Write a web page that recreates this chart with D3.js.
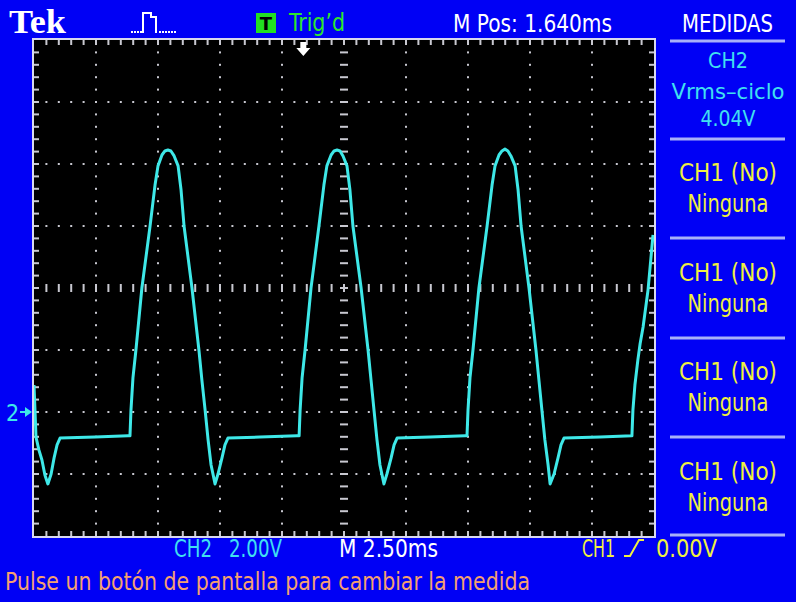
<!DOCTYPE html>
<html><head><meta charset="utf-8">
<script src="https://cdn.jsdelivr.net/npm/d3@7/dist/d3.min.js"></script>
<style>html,body{margin:0;padding:0;background:#0000f5;overflow:hidden}svg{display:block}</style>
</head><body><svg id="c" width="796" height="602"></svg>
<script>
// ---- data (CH2 trace) ----
const timeMs = [0,0.04,0.08,0.20,0.32,0.44,0.56,0.69,0.81,0.93,1.05,2.46,3.79,
 3.87,3.91,3.99,4.11,4.35,4.68,4.88,5.00,5.16,5.28,5.40,5.52,5.65,5.81,5.93,6.05,6.37,6.65,6.77,6.90,7.02,7.14,7.30,7.42,7.58,7.70,7.82,9.11,10.60,
 10.69,10.73,10.81,10.93,11.17,11.49,11.69,11.81,11.98,12.10,12.22,12.34,12.46,12.62,12.74,12.86,13.19,13.47,13.59,13.71,13.83,13.95,14.11,14.23,14.40,14.52,14.64,15.97,17.38,
 17.46,17.50,17.58,17.70,17.94,18.27,18.47,18.59,18.75,18.87,18.99,19.11,19.23,19.40,19.52,19.64,19.96,20.24,20.36,20.48,20.60,20.73,20.81,20.97,21.13,21.25,21.37,22.82,24.11,
 24.15,24.23,24.35,24.44,24.56,24.76,24.96];
const ch2Volts = [0.87,0.06,-0.81,-1.23,-1.55,-2.03,-2.32,-2.00,-1.48,-1.06,-0.84,-0.81,-0.77,
 -0.77,0.06,1.10,2.00,4.00,6.00,7.32,7.94,8.29,8.42,8.45,8.42,8.26,7.94,7.16,6.00,4.00,2.00,1.03,0.06,-0.90,-1.71,-2.32,-2.00,-1.48,-1.06,-0.84,-0.81,-0.77,
 -0.77,0.06,1.10,2.00,4.00,6.00,7.32,7.94,8.29,8.42,8.45,8.42,8.26,7.94,7.16,6.00,4.00,2.00,1.03,0.06,-0.90,-1.71,-2.32,-2.00,-1.48,-1.06,-0.84,-0.81,-0.77,
 -0.77,0.06,1.10,2.00,4.00,6.00,7.32,7.94,8.29,8.42,8.48,8.42,8.26,7.94,7.16,6.00,4.00,2.00,1.03,0.06,-0.90,-1.71,-2.32,-2.00,-1.48,-1.06,-0.84,-0.81,-0.77,
 0.06,0.87,1.68,2.20,2.74,3.94,5.71];
const timeDomain = [0, 25];      // 10 div x 2.50 ms
const voltDomain = [-4, 12];     // 8 div x 2.00 V
const timePerDiv = 2.5, voltPerDiv = 2.0;
const topTexts = {brand:"Tek", trig:"Trig’d", pos:"M Pos: 1.640ms", menu:"MEDIDAS"};
const measure1 = ["CH2","Vrms–ciclo","4.04V"];
const measureRest = [["CH1 (No)","Ninguna"],["CH1 (No)","Ninguna"],["CH1 (No)","Ninguna"],["CH1 (No)","Ninguna"]];
const bottomTexts = {ch2:"CH2", ch2v:"2.00V", time:"M 2.50ms", ch1:"CH1", ch1v:"0.00V",
  msg:"Pulse un botón de pantalla para cambiar la medida"};

const svg = d3.select("#c");
const FONT = "'Liberation Sans Narrow','DejaVu Sans Condensed','Roboto Condensed',Arial,sans-serif";
const X0=34, X1=654, Y0=40, Y1=536;
const x = d3.scaleLinear().domain(timeDomain).range([X0,X1]);
const y = d3.scaleLinear().domain(voltDomain).range([Y1,Y0]);

svg.append("rect").attr("width",796).attr("height",602).attr("fill","#0000f5");
svg.append("rect").attr("x",X0).attr("y",Y0).attr("width",X1-X0).attr("height",Y1-Y0).attr("fill","#000");

const gridCol = "#c8c8d0";
const majX = d3.range(timeDomain[0], timeDomain[1]+1e-9, timePerDiv);
const majY = d3.range(voltDomain[0], voltDomain[1]+1e-9, voltPerDiv);
const minX = d3.range(timeDomain[0], timeDomain[1]+1e-9, timePerDiv/5);
const minY = d3.range(voltDomain[0], voltDomain[1]+1e-9, voltPerDiv/5);
const cT = 12.5, cV = 4;
const g = svg.append("g");
majX.slice(1,-1).filter(t=>Math.abs(t-cT)>1e-6).forEach(t=>{
  minY.slice(1,-1).forEach(v=>g.append("rect").attr("x",x(t)-1).attr("y",y(v)-1).attr("width",2).attr("height",2).attr("fill",gridCol));
});
majY.slice(1,-1).filter(v=>Math.abs(v-cV)>1e-6).forEach(v=>{
  minX.slice(1,-1).forEach(t=>g.append("rect").attr("x",x(t)-1).attr("y",y(v)-1).attr("width",2).attr("height",2).attr("fill",gridCol));
});
minX.slice(1,-1).forEach(t=>g.append("rect").attr("x",x(t)-1).attr("y",y(cV)-4).attr("width",2).attr("height",8).attr("fill",gridCol));
minY.slice(1,-1).forEach(v=>g.append("rect").attr("x",x(cT)-4).attr("y",y(v)-1).attr("width",8).attr("height",2).attr("fill",gridCol));
minX.slice(1,-1).forEach(t=>{
  g.append("rect").attr("x",x(t)-1).attr("y",Y0).attr("width",2).attr("height",5).attr("fill",gridCol);
  g.append("rect").attr("x",x(t)-1).attr("y",Y1-5).attr("width",2).attr("height",5).attr("fill",gridCol);
});
minY.slice(1,-1).forEach(v=>{
  g.append("rect").attr("x",X0).attr("y",y(v)-1).attr("width",5).attr("height",2).attr("fill",gridCol);
  g.append("rect").attr("x",X1-5).attr("y",y(v)-1).attr("width",5).attr("height",2).attr("fill",gridCol);
});
svg.append("rect").attr("x",X0-1).attr("y",Y0-1).attr("width",X1-X0+2).attr("height",Y1-Y0+2)
  .attr("fill","none").attr("stroke","#d8d8ee").attr("stroke-width",2);

svg.append("clipPath").attr("id","clip").append("rect").attr("x",X0).attr("y",Y0).attr("width",X1-X0).attr("height",Y1-Y0);
const pts = timeMs.map((t,i)=>[t,ch2Volts[i]]);
svg.append("path").datum(pts).attr("clip-path","url(#clip)")
  .attr("d", d3.line().x(d=>x(d[0])).y(d=>y(d[1])))
  .attr("fill","none").attr("stroke","#3ee8e8").attr("stroke-width",3).attr("stroke-linejoin","round");

const trigX = x(cT - 1.64);
svg.append("path").attr("d",`M${trigX-3},42 h6 v6 h4 l-7,8 l-7,-8 h4 z`).attr("fill","#fff");
svg.append("text").attr("x",6).attr("y",y(0)+9).text("2").attr("fill","#3ee8e8")
  .attr("font-family",FONT).attr("font-size",23);
svg.append("path").attr("d",`M20,${y(0)-1} h5 v-4 l7,5 l-7,5 v-4 h-5 z`).attr("fill","#3ee8e8");

function txt(s,xx,yy,col,size,len,anchor){
  const t = svg.append("text").attr("x",xx).attr("y",yy).text(s).attr("fill",col)
    .attr("font-family",FONT).attr("font-size",size).attr("text-anchor",anchor||"start");
  if(len){t.attr("textLength",len).attr("lengthAdjust","spacingAndGlyphs");}
  return t;
}
svg.append("text").attr("x",9).attr("y",33).text(topTexts.brand).attr("fill","#fff")
  .attr("font-family","'Liberation Serif','DejaVu Serif',serif").attr("font-weight","bold").attr("font-size",33)
  .attr("textLength",57).attr("lengthAdjust","spacingAndGlyphs");
svg.append("path").attr("d","M143,33 V13 H151 V17 H156 V33").attr("fill","none").attr("stroke","#fff").attr("stroke-width",2);
[131,134,137,140,159,162,165,168,171,174].forEach(px=>svg.append("rect").attr("x",px).attr("y",31).attr("width",2).attr("height",2).attr("fill","#fff"));
svg.append("rect").attr("x",256).attr("y",13).attr("width",20).attr("height",20).attr("fill","#22e022");
txt("T",266,30,"#000",18,null,"middle").attr("font-weight","bold").attr("font-family","'DejaVu Sans',sans-serif");
txt(topTexts.trig,289,31,"#2ee62e",25,56);
txt(topTexts.pos,453,32,"#fff",25,159);
txt(topTexts.menu,682,32,"#fff",25,91);

const sepY = [41,139,238,338,437,535];
sepY.forEach(sy=>svg.append("rect").attr("x",670).attr("y",sy-1.5).attr("width",115).attr("height",3).attr("fill","#a8b0f8"));
const cx = 728;
txt(measure1[0],cx,68,"#40e0f0",21,40,"middle");
txt(measure1[1],cx,99,"#40e0f0",21,113,"middle");
txt(measure1[2],cx,126,"#40e0f0",21,55,"middle");
measureRest.forEach((m,i)=>{
  const b = 181 + i*99.7;
  txt(m[0],cx,b,"#f0f040",24,98,"middle");
  txt(m[1],cx,b+31,"#f0f040",24,81,"middle");
});

txt(bottomTexts.ch2,174,557,"#40e0f0",24,38);
txt(bottomTexts.ch2v,229,557,"#40e0f0",24,53);
txt(bottomTexts.time,339,557,"#fff",24,99);
txt(bottomTexts.ch1,582,557,"#f0f040",24,33);
svg.append("path").attr("d","M624,556 h6 l9,-16 h5").attr("fill","none").attr("stroke","#f0f040").attr("stroke-width",2);
txt(bottomTexts.ch1v,656,557,"#f0f040",24,61);
txt(bottomTexts.msg,5,590,"#f5a070",24,525);
</script></body></html>
